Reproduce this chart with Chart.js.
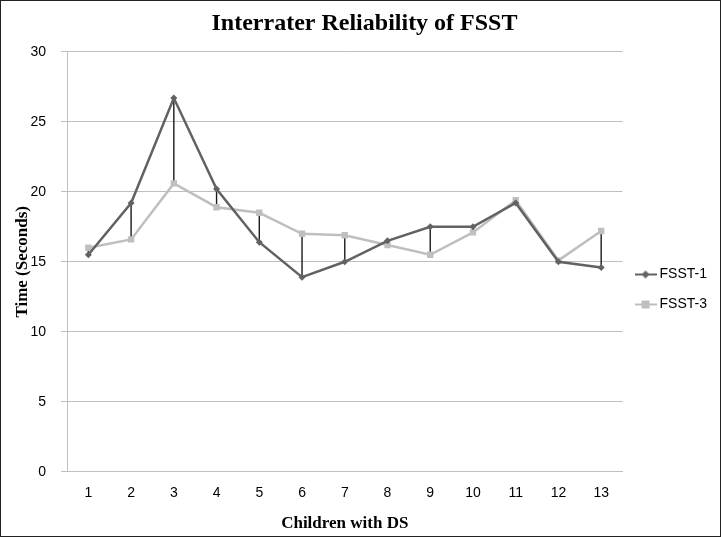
<!DOCTYPE html>
<html>
<head>
<meta charset="utf-8">
<script src="https://cdn.jsdelivr.net/npm/chart.js@4"></script>
<style>
  html, body { margin: 0; padding: 0; background: #fff; }
  #wrap { width: 721px; height: 537px; box-sizing: border-box; border: 1px solid #222; position: relative; }
  #chart { display: block; }
</style>
</head>
<body>
<div id="wrap"><canvas id="chart" width="719" height="535"></canvas></div>
<script>
const children = ['1', '2', '3', '4', '5', '6', '7', '8', '9', '10', '11', '12', '13'];
const fsst1 = [15.5, 19.2, 26.7, 20.2, 16.4, 13.9, 15.0, 16.5, 17.5, 17.5, 19.2, 15.0, 14.6];
const fsst3 = [16.0, 16.6, 20.6, 18.9, 18.5, 17.0, 16.9, 16.2, 15.5, 17.1, 19.4, 15.1, 17.2];
const yTicks = [0, 5, 10, 15, 20, 25, 30];

const dark = '#626262';
const light = '#bfbfbf';

// little line+marker image for the legend
function legendIcon(color, style) {
    const c = document.createElement('canvas');
    c.width = 22; c.height = 10;
    const g = c.getContext('2d');
    g.strokeStyle = color;
    g.lineWidth = 2;
    g.beginPath(); g.moveTo(0, 5); g.lineTo(22, 5); g.stroke();
    g.fillStyle = color;
    if (style === 'rect') {
        g.fillRect(7, 1, 8, 8);
    } else {
        g.beginPath();
        g.moveTo(11, 1); g.lineTo(15, 5); g.lineTo(11, 9); g.lineTo(7, 5); g.closePath();
        g.fill();
    }
    return c;
}

// high-low lines between the two series
const dropLines = {
    id: 'dropLines',
    beforeDatasetsDraw(chart) {
        const { ctx, scales: { x, y } } = chart;
        ctx.save();
        ctx.strokeStyle = '#1a1a1a';
        ctx.lineWidth = 1.4;
        children.forEach((c, i) => {
            const px = x.getPixelForValue(i);
            ctx.beginPath();
            ctx.moveTo(px, y.getPixelForValue(fsst1[i]));
            ctx.lineTo(px, y.getPixelForValue(fsst3[i]));
            ctx.stroke();
        });
        ctx.restore();
    }
};

new Chart(document.getElementById('chart'), {
    type: 'line',
    data: {
        labels: children,
        datasets: [
            {
                label: 'FSST-1',
                data: fsst1,
                borderColor: dark,
                backgroundColor: dark,
                borderWidth: 2.5,
                pointStyle: 'rectRot',
                pointRadius: 3.5,
                pointBorderWidth: 0,
                tension: 0
            },
            {
                label: 'FSST-3',
                data: fsst3,
                borderColor: light,
                backgroundColor: light,
                borderWidth: 2.5,
                pointStyle: 'rect',
                pointRadius: 4.5,
                pointBorderWidth: 0,
                tension: 0
            }
        ]
    },
    options: {
        responsive: false,
        animation: false,
        layout: { padding: { left: 11, right: 3, top: 0, bottom: 2 } },
        plugins: {
            title: {
                display: true,
                text: 'Interrater Reliability of FSST',
                color: '#000',
                font: { family: 'Liberation Serif', size: 24, weight: 'bold' },
                padding: { top: 8, bottom: 14 }
            },
            legend: {
                position: 'right',
                title: { display: true, text: ' ', font: { size: 10 }, padding: 16 },
                labels: {
                    usePointStyle: true,
                    pointStyleWidth: 14,
                    color: '#000',
                    font: { family: 'Liberation Sans', size: 14 },
                    padding: 16,
                    generateLabels: () => [
                        { text: 'FSST-1', pointStyle: legendIcon(dark, 'diamond'), datasetIndex: 0, fontColor: '#000' },
                        { text: 'FSST-3', pointStyle: legendIcon(light, 'rect'), datasetIndex: 1, fontColor: '#000' }
                    ]
                }
            },
            tooltip: { enabled: false }
        },
        scales: {
            x: {
                offset: true,
                grid: { display: false },
                border: { display: true, color: '#bfbfbf' },
                ticks: {
                    color: '#000',
                    font: { family: 'Liberation Sans', size: 14 },
                    padding: 5
                },
                title: {
                    display: true,
                    text: 'Children with DS',
                    color: '#000',
                    font: { family: 'Liberation Serif', size: 17, weight: 'bold' },
                    padding: { top: 7, bottom: 0 }
                }
            },
            y: {
                min: 0,
                max: 30,
                afterBuildTicks: axis => { axis.ticks = yTicks.map(v => ({ value: v })); },
                afterFit: axis => { axis.width = 55; },
                grid: { color: '#bfbfbf', lineWidth: 1, tickLength: 6, drawTicks: true },
                border: { display: true, color: '#bfbfbf' },
                ticks: {
                    color: '#000',
                    font: { family: 'Liberation Sans', size: 14 },
                    padding: 15
                },
                title: {
                    display: true,
                    text: 'Time (Seconds)',
                    color: '#000',
                    font: { family: 'Liberation Serif', size: 17, weight: 'bold' },
                    padding: { top: 0, bottom: 0 }
                }
            }
        }
    },
    plugins: [dropLines]
});
</script>
</body>
</html>
